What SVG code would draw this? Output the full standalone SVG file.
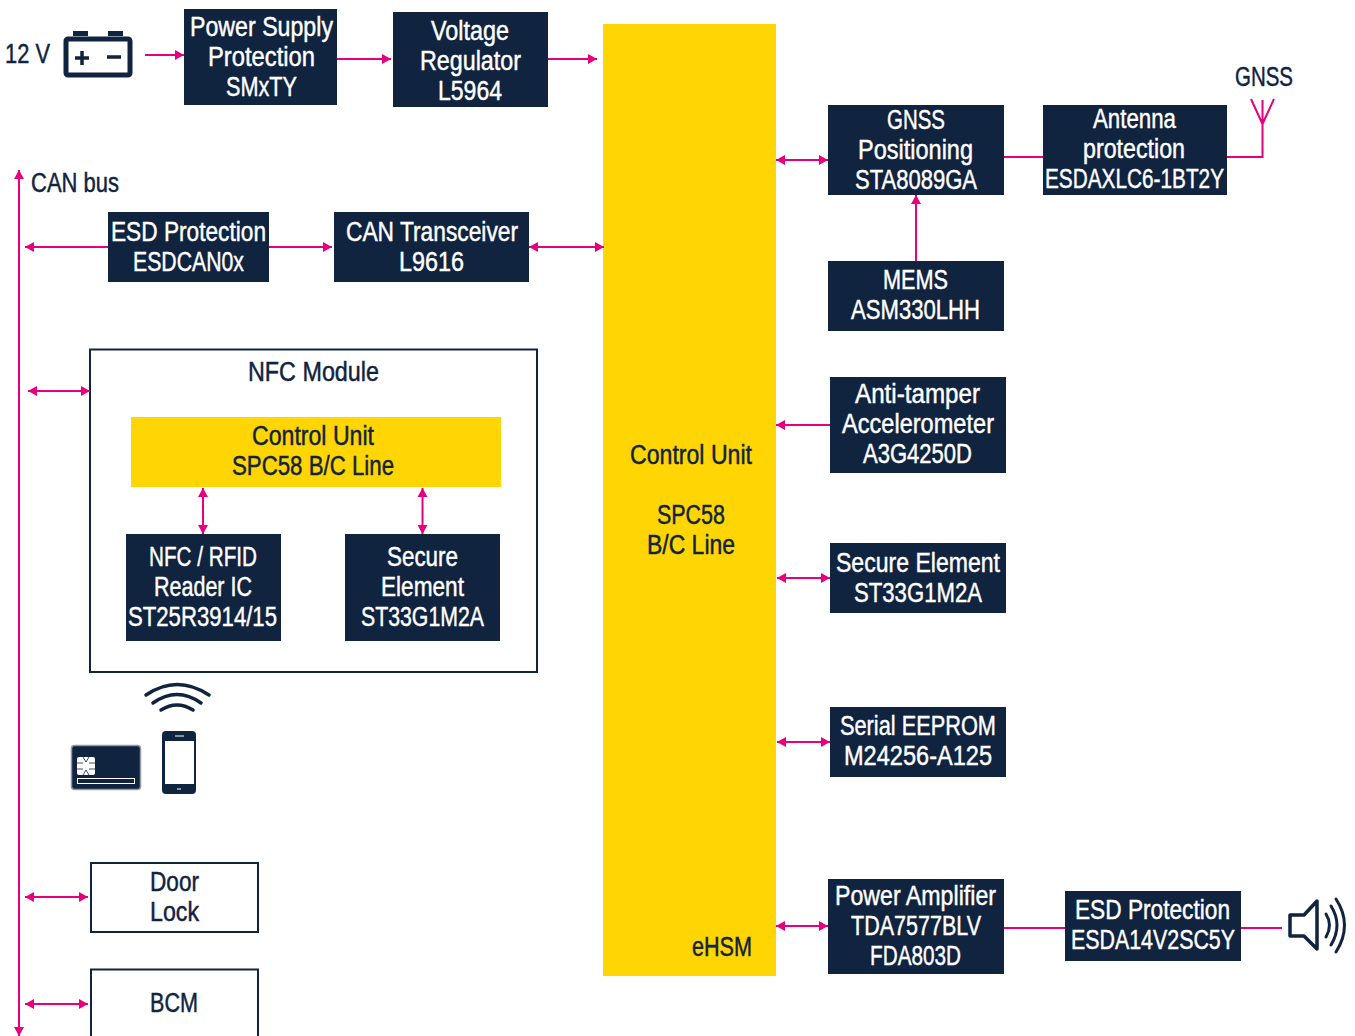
<svg xmlns="http://www.w3.org/2000/svg" width="1355" height="1036" viewBox="0 0 1355 1036">
<style>
text{font-family:"Liberation Sans",Arial,sans-serif;font-size:27px;fill:#10233f;stroke:#10233f;stroke-width:.45px;text-anchor:middle}
.d{fill:#10233f}
.d text{fill:#fff;stroke:#fff}
.y{fill:#ffd504}
.o{fill:#fff;stroke:#10233f;stroke-width:2}
#connectors path{fill:none;stroke:#e6007e;stroke-width:2}
.a{marker-end:url(#h)}
.b{marker-start:url(#h);marker-end:url(#h)}
.i{fill:#10233f}
.l{fill:none;stroke:#10233f}
</style>
<defs><marker id="h" markerUnits="userSpaceOnUse" markerWidth="11" markerHeight="11" refX="10" refY="5.500" orient="auto-start-reverse"><path d="M1 .5L10 5.500L1 10.500Z" fill="#e6007e"/></marker></defs>
<rect width="1355" height="1036" fill="#fff"/>
<g id="label-12v"><text x="27.500" y="63" textLength="45" lengthAdjust="spacingAndGlyphs">12 V</text></g>
<g id="battery">
<rect class="i" x="73" y="31" width="15" height="5"/><rect class="i" x="108" y="31" width="15" height="5"/>
<rect x="66" y="39" width="64" height="36" rx="2" fill="#fff" stroke="#10233f" stroke-width="5"/>
<path class="l" stroke-width="3.500" d="M75 58H89M82 51V65M107 57H121"/>
</g>
<g id="power-supply" class="d"><rect x="184" y="9" width="153" height="96"/><text x="261.500" y="36" textLength="143" lengthAdjust="spacingAndGlyphs">Power Supply</text><text x="261.500" y="66" textLength="107" lengthAdjust="spacingAndGlyphs">Protection</text><text x="261.500" y="96" textLength="71" lengthAdjust="spacingAndGlyphs">SMxTY</text></g>
<g id="regulator" class="d"><rect x="393" y="12" width="155" height="95"/><text x="470" y="40" textLength="78" lengthAdjust="spacingAndGlyphs">Voltage</text><text x="470.500" y="70" textLength="101" lengthAdjust="spacingAndGlyphs">Regulator</text><text x="470" y="100" textLength="64" lengthAdjust="spacingAndGlyphs">L5964</text></g>
<g id="can-label"><text x="75" y="192" textLength="88" lengthAdjust="spacingAndGlyphs">CAN bus</text></g>
<g id="esd-can" class="d"><rect x="108" y="212" width="161" height="70"/><text x="188.500" y="241" textLength="155" lengthAdjust="spacingAndGlyphs">ESD Protection</text><text x="188.500" y="271" textLength="111" lengthAdjust="spacingAndGlyphs">ESDCAN0x</text></g>
<g id="can-transceiver" class="d"><rect x="334" y="212" width="195" height="70"/><text x="432" y="241" textLength="172" lengthAdjust="spacingAndGlyphs">CAN Transceiver</text><text x="431.500" y="271" textLength="65" lengthAdjust="spacingAndGlyphs">L9616</text></g>
<g id="nfc-module"><rect class="o" x="90" y="349.500" width="447" height="322.500"/><text x="313.500" y="381" textLength="131" lengthAdjust="spacingAndGlyphs">NFC Module</text></g>
<g id="nfc-control"><rect class="y" x="131" y="417" width="370" height="70"/><text x="313" y="445" textLength="122" lengthAdjust="spacingAndGlyphs">Control Unit</text><text x="313" y="475" textLength="162" lengthAdjust="spacingAndGlyphs">SPC58 B/C Line</text></g>
<g id="nfc-reader" class="d"><rect x="126" y="534" width="155" height="107"/><text x="203" y="566" textLength="108" lengthAdjust="spacingAndGlyphs">NFC / RFID</text><text x="203" y="596" textLength="98" lengthAdjust="spacingAndGlyphs">Reader IC</text><text x="202.500" y="626" textLength="149" lengthAdjust="spacingAndGlyphs">ST25R3914/15</text></g>
<g id="nfc-secure" class="d"><rect x="345" y="534" width="155" height="107"/><text x="422.500" y="566" textLength="71" lengthAdjust="spacingAndGlyphs">Secure</text><text x="422.500" y="596" textLength="83" lengthAdjust="spacingAndGlyphs">Element</text><text x="422.500" y="626" textLength="123" lengthAdjust="spacingAndGlyphs">ST33G1M2A</text></g>
<g id="wifi"><path class="l" stroke-width="3.500" stroke-linecap="round" d="M146 695Q177 674 209 695M153 703Q177 686 201 703M161 710Q177 700 193 710"/></g>
<g id="card">
<rect x="71.500" y="745.500" width="69" height="44" rx="3" fill="#10233f" stroke="#8d98a8" stroke-width="1.500"/>
<rect x="77.500" y="778.500" width="57" height="5" fill="#10233f" stroke="#fff"/>
<rect x="77" y="757" width="18" height="18" rx="2" fill="#fff"/>
<path d="M77 763H83M77 769H83M95 763H89M95 769H89M83 757L86 762L89 757M83 775L86 770L89 775" fill="none" stroke="#10233f" stroke-width=".8"/>
</g>
<g id="phone">
<rect class="i" x="162" y="731" width="34" height="63" rx="4"/>
<rect x="165" y="741" width="29" height="43" fill="#fff"/>
<path d="M175 736H184M177 789H181" stroke="#fff" fill="none"/>
</g>
<g id="door"><rect class="o" x="91" y="863" width="167" height="69"/><text x="174.500" y="891" textLength="49" lengthAdjust="spacingAndGlyphs">Door</text><text x="174.500" y="921" textLength="49" lengthAdjust="spacingAndGlyphs">Lock</text></g>
<g id="bcm"><rect class="o" x="91" y="969.500" width="167" height="80"/><text x="174" y="1012" textLength="48" lengthAdjust="spacingAndGlyphs">BCM</text></g>
<g id="control-unit"><rect class="y" x="603" y="24" width="173" height="952"/><text x="691" y="464" textLength="122" lengthAdjust="spacingAndGlyphs">Control Unit</text><text x="691" y="524" textLength="68" lengthAdjust="spacingAndGlyphs">SPC58</text><text x="691" y="554" textLength="88" lengthAdjust="spacingAndGlyphs">B/C Line</text><text x="722" y="956" textLength="60" lengthAdjust="spacingAndGlyphs">eHSM</text></g>
<g id="gnss-pos" class="d"><rect x="828" y="105" width="176" height="90"/><text x="916" y="129" textLength="58" lengthAdjust="spacingAndGlyphs">GNSS</text><text x="915.500" y="159" textLength="115" lengthAdjust="spacingAndGlyphs">Positioning</text><text x="916" y="189" textLength="122" lengthAdjust="spacingAndGlyphs">STA8089GA</text></g>
<g id="antenna-prot" class="d"><rect x="1043" y="105" width="184" height="90"/><text x="1134.500" y="128" textLength="83" lengthAdjust="spacingAndGlyphs">Antenna</text><text x="1134" y="158" textLength="102" lengthAdjust="spacingAndGlyphs">protection</text><text x="1134.500" y="188" textLength="179" lengthAdjust="spacingAndGlyphs">ESDAXLC6-1BT2Y</text></g>
<g id="gnss-label"><text x="1264" y="86" textLength="58" lengthAdjust="spacingAndGlyphs">GNSS</text></g>
<g id="mems" class="d"><rect x="828" y="261" width="176" height="70"/><text x="915.500" y="289" textLength="65" lengthAdjust="spacingAndGlyphs">MEMS</text><text x="915.500" y="319" textLength="129" lengthAdjust="spacingAndGlyphs">ASM330LHH</text></g>
<g id="anti-tamper" class="d"><rect x="830" y="377" width="176" height="96"/><text x="917.500" y="403" textLength="125" lengthAdjust="spacingAndGlyphs">Anti-tamper</text><text x="918" y="433" textLength="152" lengthAdjust="spacingAndGlyphs">Accelerometer</text><text x="917.500" y="463" textLength="109" lengthAdjust="spacingAndGlyphs">A3G4250D</text></g>
<g id="secure-element" class="d"><rect x="830" y="543" width="176" height="70"/><text x="918" y="572" textLength="164" lengthAdjust="spacingAndGlyphs">Secure Element</text><text x="918" y="602" textLength="128" lengthAdjust="spacingAndGlyphs">ST33G1M2A</text></g>
<g id="eeprom" class="d"><rect x="830" y="707" width="176" height="70"/><text x="918" y="735" textLength="156" lengthAdjust="spacingAndGlyphs">Serial EEPROM</text><text x="918" y="765" textLength="148" lengthAdjust="spacingAndGlyphs">M24256-A125</text></g>
<g id="amplifier" class="d"><rect x="828" y="879" width="176" height="95"/><text x="915.500" y="905" textLength="161" lengthAdjust="spacingAndGlyphs">Power Amplifier</text><text x="916" y="935" textLength="130" lengthAdjust="spacingAndGlyphs">TDA7577BLV</text><text x="915.500" y="965" textLength="91" lengthAdjust="spacingAndGlyphs">FDA803D</text></g>
<g id="esd-audio" class="d"><rect x="1065" y="891" width="176" height="70"/><text x="1152.500" y="919" textLength="155" lengthAdjust="spacingAndGlyphs">ESD Protection</text><text x="1153" y="949" textLength="164" lengthAdjust="spacingAndGlyphs">ESDA14V2SC5Y</text></g>
<g id="speaker"><path class="l" stroke-width="3.500" stroke-linejoin="round" d="M1290 915H1304L1317 901V949L1304 936H1290Z"/><path class="l" stroke-width="3" stroke-linecap="round" d="M1326 914Q1333 925 1326 937M1331 906Q1343 925 1331 945M1336 899Q1353 925 1336 952"/></g>
<g id="connectors">
<path class="a" d="M145 55H184"/>
<path class="a" d="M337 59H391"/>
<path class="a" d="M548 59H597"/>
<path class="b" d="M19 1036V170"/>
<path class="a" d="M108 247H25"/>
<path class="a" d="M269 247H332"/>
<path class="b" d="M529 247H604"/>
<path class="b" d="M28 391H90"/>
<path class="b" d="M203 488V534"/>
<path class="b" d="M422.500 488V534"/>
<path class="b" d="M25 897H88"/>
<path class="b" d="M25 1004H88"/>
<path class="b" d="M776 160H828"/>
<path d="M1004 157H1043"/>
<path d="M1227 157H1262.500V100M1251 99L1262.500 124L1274 99"/>
<path class="a" d="M916 261V195"/>
<path class="a" d="M830 425H776"/>
<path class="b" d="M777 578H830"/>
<path class="b" d="M777 742H830"/>
<path class="b" d="M776 926H828"/>
<path d="M1004 928H1065"/>
<path d="M1241 928H1282"/>
</g>
</svg>
